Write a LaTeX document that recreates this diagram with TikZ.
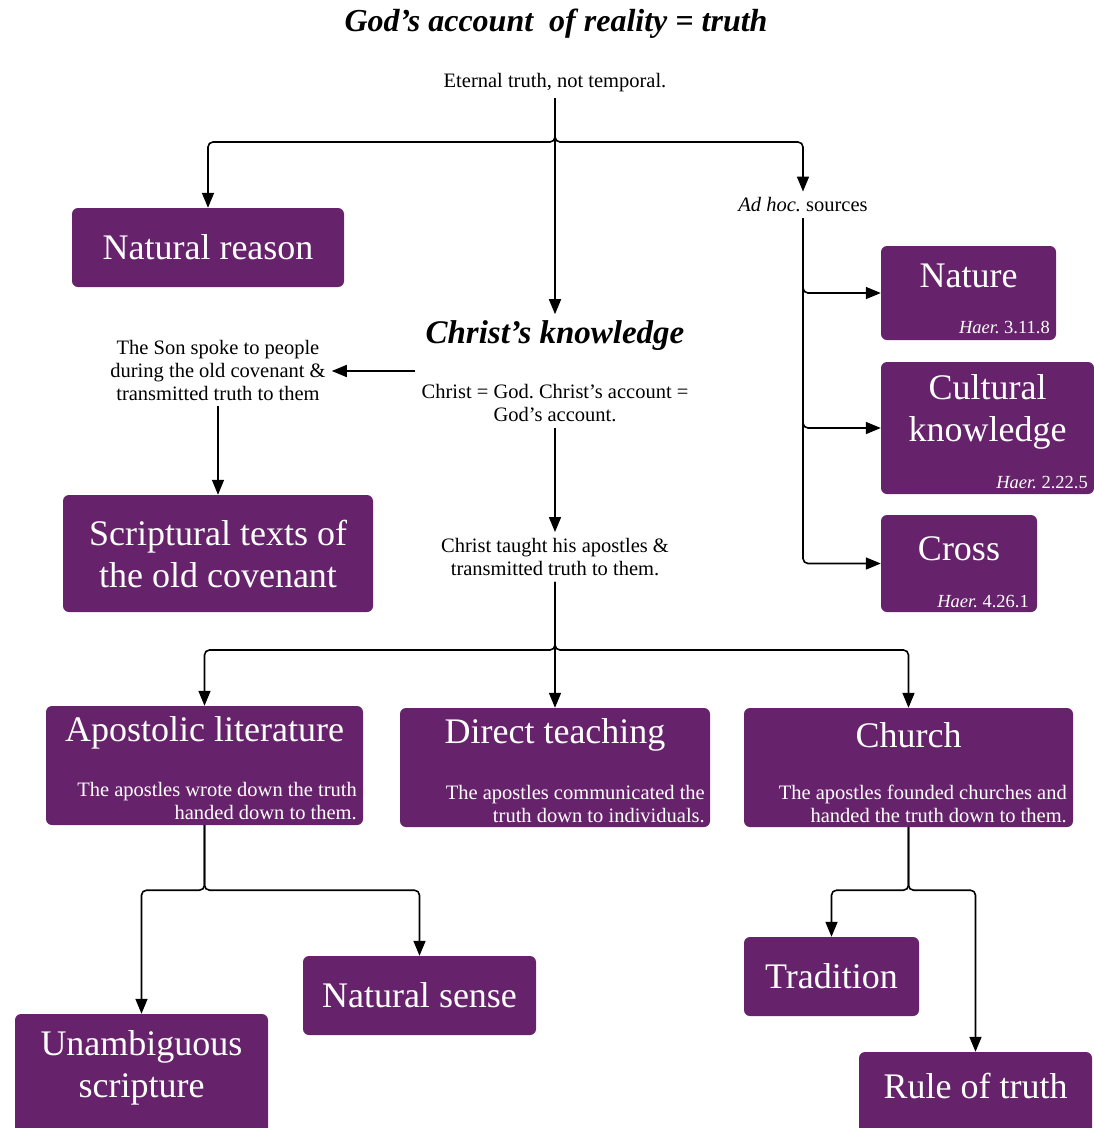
\documentclass[tikz,border=0pt]{standalone}
\usepackage{fontspec}
\setmainfont{Liberation Serif}
\usetikzlibrary{arrows.meta,positioning}
\definecolor{boxpurple}{HTML}{66236B}
\frenchspacing
\begin{document}
\begin{tikzpicture}[x=1pt,y=-1pt,
  box/.style={fill=boxpurple,rounded corners=6pt,text=white,inner sep=0pt,align=center,font=\fontsize{36}{42}\selectfont},
  boxtitle/.style={text=white,inner sep=0pt,align=center,font=\fontsize{36}{42}\selectfont},
  boxsub/.style={text=white,inner sep=0pt,align=right,anchor=east,font=\fontsize{20.5}{23}\selectfont},
  haer/.style={text=white,inner sep=0pt,anchor=base east,font=\fontsize{18.5}{22}\selectfont},
  note/.style={align=center,inner sep=6pt,font=\fontsize{20.5}{23}\selectfont},
  link/.style={line width=1.6pt,rounded corners=5pt,-{Triangle[length=15pt,width=12pt]}}]
\useasboundingbox (0,0) rectangle (1094,1128);
% heading and the three ways from God
\node[font=\fontsize{32}{38}\selectfont\bfseries\itshape,inner sep=0pt] (heading) at (556,24) {God's account\ \ of reality = truth};
\node[note] (eternal) at (555,83) {Eternal truth, not temporal.};
\node[box,minimum width=272pt,minimum height=79pt] (natreason) at (208,247.5) {Natural reason};
\node[note] (adhoc) at (803,205) {\textit{Ad hoc.} sources};
\node[note] (christ) at (555,371) {{\fontsize{33}{38}\selectfont\bfseries\itshape Christ's knowledge}\\[32pt]Christ = God. Christ's account =\\God's account.};
% ad hoc sources
\node[box,minimum width=175pt,minimum height=94pt] (nature) at (968.5,293) {};
\node[boxtitle] (nature-t) at (968.5,276) {Nature};
\node[haer] (nature-h) at (1050,333) {\textit{Haer.} 3.11.8};
\node[box,minimum width=213pt,minimum height=132pt] (cultural) at (987.5,428) {};
\node[boxtitle] (cultural-t) at (987.5,412) {Cultural\\knowledge};
\node[haer] (cultural-h) at (1088,488) {\textit{Haer.} 2.22.5};
\node[box,minimum width=156pt,minimum height=97pt] (cross) at (959,563.5) {};
\node[boxtitle] (cross-t) at (959,549) {Cross};
\node[haer] (cross-h) at (1029,607) {\textit{Haer.} 4.26.1};
% old covenant
\node[note] (son) at (218,370) {The Son spoke to people\\during the old covenant \&\\transmitted truth to them};
\node[box,minimum width=310pt,minimum height=117pt] (scripture) at (218,553.5) {Scriptural texts of\\the old covenant};
% apostles
\node[note] (taught) at (555,557) {Christ taught his apostles \&\\transmitted truth to them.};
\node[box,minimum width=317pt,minimum height=119pt] (apolit) at (204.5,765.5) {};
\node[boxtitle] (apolit-t) at (204.5,733) {Apostolic literature};
\node[boxsub] (apolit-s) at (357,801) {The apostles wrote down the truth\\handed down to them.};
\node[box,minimum width=310pt,minimum height=119pt] (direct) at (555,767.5) {};
\node[boxtitle] (direct-t) at (555,735) {Direct teaching};
\node[boxsub] (direct-s) at (705,804) {The apostles communicated the\\truth down to individuals.};
\node[box,minimum width=329pt,minimum height=119pt] (church) at (908.5,767.5) {};
\node[boxtitle] (church-t) at (908.5,735) {Church};
\node[boxsub] (church-s) at (1067,804) {The apostles founded churches and\\handed the truth down to them.};
% bottom row
\node[box,minimum width=233pt,minimum height=79pt] (natsense) at (419.5,995.5) {Natural sense};
\node[box,minimum width=253pt,minimum height=130pt] (unamb) at (141.5,1079) {};
\node[boxtitle] (unamb-t) at (141.5,1068) {Unambiguous\\scripture};
\node[box,minimum width=175pt,minimum height=79pt] (tradition) at (831.5,976.5) {Tradition};
\node[box,minimum width=233pt,minimum height=90pt] (rule) at (975.5,1097) {};
\node[boxtitle] (rule-t) at (975.5,1086) {Rule of truth};
% connectors
\coordinate (split-top) at (555,142);
\coordinate (split-taught) at (555,650);
\coordinate (split-apo) at ([yshift=-65pt]apolit.south);
\coordinate (split-church) at ([yshift=-63pt]church.south);
\draw[link] (eternal) -- (christ);
\draw[link] (eternal.south) -- (split-top) -| (natreason.north);
\draw[link] (eternal.south) -- (split-top) -| (adhoc.north);
\foreach \t in {nature,cultural,cross}
  \draw[link] (adhoc.south) |- (\t.west);
\draw[link] (christ.west) -- (christ.west -| son.east);
\draw[link] (son) -- (scripture);
\draw[link] (christ) -- (taught);
\draw[link] (taught) -- (direct);
\foreach \t in {apolit,church}
  \draw[link] (taught.south) -- (split-taught) -| (\t.north);
\foreach \t in {unamb,natsense}
  \draw[link] (apolit.south) -- (split-apo) -| (\t.north);
\foreach \t in {tradition,rule}
  \draw[link] (church.south) -- (split-church) -| (\t.north);
\end{tikzpicture}
\end{document}
